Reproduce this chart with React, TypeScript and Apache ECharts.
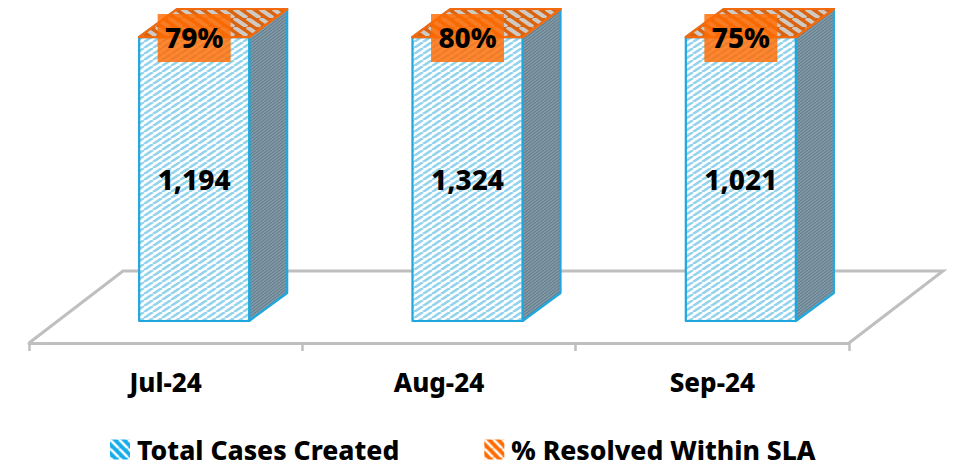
import React, { useEffect, useRef } from "react";
import * as echarts from "echarts";

const categories = ["Jul-24", "Aug-24", "Sep-24"];
const totalCases = [1194, 1324, 1021];
const resolvedPct = [79, 80, 75];
const seriesNames = ["Total Cases Created", "% Resolved Within SLA"];

const FONT = '"Noto Sans", sans-serif';
const BLUE = "#1FA7DE";
const ORANGE = "#F26A0F";
const DX = 38;
const DY = -28;
const BAR_RATIO = 0.4025;

function stripes(w: number, h: number, bg: string, fg: string, lw: number, dir: 1 | -1) {
  const c = document.createElement("canvas");
  c.width = w;
  c.height = h;
  const g = c.getContext("2d")!;
  g.fillStyle = bg;
  g.fillRect(0, 0, w, h);
  g.strokeStyle = fg;
  g.lineWidth = lw;
  for (let i = -1; i <= 1; i++) {
    g.beginPath();
    if (dir === 1) {
      g.moveTo(i * w, h);
      g.lineTo(i * w + w, 0);
    } else {
      g.moveTo(i * w, 0);
      g.lineTo(i * w + w, h);
    }
    g.stroke();
  }
  return { image: c, repeat: "repeat", imageWidth: w, imageHeight: h } as any;
}

function makeRender(faces: any, stroke: string, labelFn: (i: number, x: number, y0: number, y1: number) => any[]) {
  return (params: any, api: any) => {
    const i = api.value(0);
    const lo = api.coord([i, api.value(1)]);
    const hi = api.coord([i, api.value(2)]);
    const w = api.size([1, 0])[0] * BAR_RATIO;
    const cx = lo[0] + (DX * 3) / 4;
    const x0 = cx - w / 2;
    const x1 = cx + w / 2;
    const y0 = lo[1];
    const y1 = hi[1];
    const poly = (pts: number[][], fill: any) => ({
      type: "polygon",
      shape: { points: pts },
      style: { fill, stroke, lineWidth: 2.2, lineJoin: "round" },
    });
    return {
      type: "group",
      children: [
        poly([[x1, y0], [x1 + DX, y0 + DY], [x1 + DX, y1 + DY], [x1, y1]], faces.side),
        poly([[x0, y1], [x0 + DX, y1 + DY], [x1 + DX, y1 + DY], [x1, y1]], faces.top),
        poly([[x0, y0], [x1, y0], [x1, y1], [x0, y1]], faces.front),
        ...labelFn(i, cx, y0, y1),
      ],
    };
  };
}

export default function App() {
  const ref = useRef<HTMLDivElement>(null);
  useEffect(() => {
    document.body.style.margin = "0";
    const chart = echarts.init(ref.current!, undefined, { renderer: "svg" });

    const blueFaces = {
      front: stripes(9, 6, "#FFFFFF", "#93D3EC", 2.6, 1),
      side: stripes(4, 3, "#7F98A5", "#64798A", 1, 1),
      top: stripes(9, 6, "#FFFFFF", "#93D3EC", 2.6, 1),
    };
    const orangeFaces = {
      front: stripes(10, 8, "#D9630F", "#CFCAC4", 3.5, -1),
      side: stripes(4, 3, "#7F98A5", "#64798A", 1, 1),
      top: stripes(13, 9, "#D9630F", "#CFCAC4", 4, -1),
    };

    const shares = totalCases.map((t, i) => t / (t + resolvedPct[i] / 100));

    const totalRender = makeRender(blueFaces, BLUE, (i, x, y0, y1) => [
      {
        type: "text",
        z2: 10,
        style: {
          x,
          y: (y0 + y1) / 2,
          text: totalCases[i].toLocaleString("en-US"),
          fill: "#000",
          font: `800 28px ${FONT}`,
          align: "center",
          verticalAlign: "middle",
        },
      },
    ]);
    const pctRender = makeRender(orangeFaces, ORANGE, (i, x, y0, y1) => [
      {
        type: "rect",
        z2: 20,
        shape: { x: x - 36.5, y: y1 - 23, width: 73, height: 48 },
        style: { fill: "rgba(255,106,0,0.82)" },
      },
      {
        type: "text",
        z2: 21,
        style: {
          x,
          y: y1,
          text: `${resolvedPct[i]}%`,
          fill: "#000",
          font: `800 28px ${FONT}`,
          align: "center",
          verticalAlign: "middle",
        },
      },
    ]);

    chart.setOption({
      animation: false,
      backgroundColor: "#fff",
      grid: { left: 29, right: 112, top: 37, bottom: 155 },
      xAxis: {
        type: "category",
        data: categories,
        offset: 22,
        axisLine: { onZero: false, lineStyle: { color: "#BFBFBF", width: 3 } },
        axisTick: { show: true, length: 8, alignWithLabel: false, lineStyle: { color: "#BFBFBF", width: 2.5 } },
        axisLabel: { color: "#000", fontFamily: FONT, fontWeight: 800, fontSize: 26, margin: 26 },
      },
      yAxis: { type: "value", min: 0, max: 1, show: false },
      legend: {
        left: 105,
        top: 431,
        itemWidth: 20,
        itemHeight: 20,
        itemGap: 85,
        icon: "rect",
        data: seriesNames,
        textStyle: { color: "#000", fontFamily: FONT, fontWeight: 800, fontSize: 26.5, padding: [0, 0, 0, 2] },
      },
      graphic: {
        elements: [
          {
            type: "polyline",
            z: 0,
            shape: { points: [[29, 343], [123, 271], [943, 271], [849, 343]] },
            style: { stroke: "#BFBFBF", lineWidth: 3, fill: "none", lineJoin: "miter" },
          },
        ],
      },
      series: [
        {
          name: seriesNames[0],
          type: "custom",
          clip: false,
          z: 3,
          itemStyle: { color: stripes(9, 9, "#14ACEA", "#FFFFFF", 2.6, -1) },
          renderItem: totalRender,
          encode: { x: 0, y: 2 },
          data: categories.map((_, i) => [i, 0, shares[i]]),
        },
        {
          name: seriesNames[1],
          type: "custom",
          clip: false,
          z: 4,
          itemStyle: { color: stripes(9, 9, "#FF6A00", "#FFFFFF", 2.6, -1) },
          renderItem: pctRender,
          encode: { x: 0, y: 2 },
          data: categories.map((_, i) => [i, shares[i], 1]),
        },
      ],
    });
    return () => chart.dispose();
  }, []);
  return <div ref={ref} style={{ width: 961, height: 476 }} />;
}
